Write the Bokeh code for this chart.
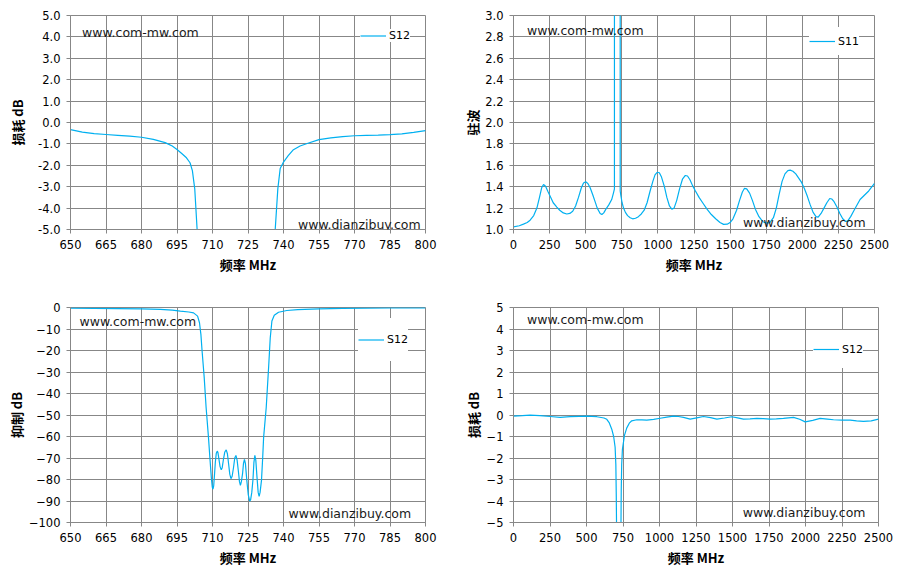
from bokeh.plotting import figure
from bokeh.models import Range1d, FixedTicker, NumeralTickFormatter, Label
from bokeh.layouts import row, column
from bokeh.embed import file_html
from bokeh.resources import INLINE

# ---------------- data ----------------
# Panel 1: insertion loss, 650-800 MHz (S12)
f1 = [650, 655, 660, 665, 670, 675, 680, 685, 690, 693, 695, 697, 699, 700.5,
      701.5, 702.5, 703.5, 704.5, 735.5, 736.5, 737.6, 738.6, 740, 742, 744.2,
      747, 750, 755, 760, 765, 770, 775, 780, 785, 790, 795, 800]
s1 = [-0.33, -0.45, -0.52, -0.56, -0.6, -0.64, -0.69, -0.79, -0.94, -1.1, -1.26,
      -1.45, -1.65, -1.88, -2.25, -3.1, -5.0, -7.5, -7.5, -5.0, -3.1, -2.15, -1.85,
      -1.55, -1.27, -1.1, -0.98, -0.8, -0.72, -0.66, -0.62, -0.6, -0.59, -0.57,
      -0.53, -0.46, -0.38]

# Panel 2: VSWR, 0-2500 MHz (S11)
f2 = [0, 40, 69, 95, 115, 140, 162, 180, 195, 208, 222, 240, 254, 275, 300, 320,
      345, 369, 390, 410, 430, 450, 470, 485, 500, 515, 531, 550, 565, 580, 600,
      612, 625, 640, 660, 680, 692, 699, 701, 737, 739, 743, 752, 762, 775, 790,
      808, 825, 845, 865, 885, 905, 925, 946, 965, 980, 995, 1010, 1025, 1045,
      1062, 1080, 1096, 1112, 1130, 1150, 1170, 1190, 1205, 1222, 1240, 1260,
      1285, 1310, 1340, 1370, 1400, 1430, 1455, 1480, 1500, 1520, 1545, 1565,
      1585, 1600, 1615, 1635, 1655, 1675, 1700, 1725, 1750, 1775, 1800, 1820,
      1840, 1860, 1880, 1900, 1916, 1935, 1955, 1975, 1995, 2015, 2035, 2055,
      2075, 2095, 2110, 2130, 2150, 2170, 2190, 2205, 2220, 2240, 2260, 2280,
      2300, 2315, 2335, 2355, 2375, 2400, 2430, 2460, 2500]
s2 = [1.025, 1.035, 1.05, 1.065, 1.087, 1.13, 1.2, 1.3, 1.39, 1.42, 1.405, 1.35,
      1.31, 1.25, 1.21, 1.18, 1.155, 1.145, 1.15, 1.17, 1.22, 1.3, 1.39, 1.435,
      1.446, 1.43, 1.39, 1.32, 1.26, 1.2, 1.15, 1.14, 1.155, 1.19, 1.23, 1.28,
      1.34, 1.38, 40.0, 40.0, 1.36, 1.32, 1.25, 1.2, 1.16, 1.13, 1.11, 1.1, 1.105,
      1.12, 1.145, 1.18, 1.25, 1.36, 1.45, 1.51, 1.535, 1.53, 1.49, 1.4, 1.3,
      1.22, 1.19, 1.2, 1.27, 1.38, 1.47, 1.505, 1.5, 1.465, 1.41, 1.36, 1.3, 1.25,
      1.19, 1.14, 1.1, 1.065, 1.048, 1.05, 1.065, 1.1, 1.18, 1.27, 1.35, 1.385,
      1.38, 1.34, 1.27, 1.19, 1.12, 1.075, 1.06, 1.065, 1.11, 1.2, 1.33, 1.45,
      1.52, 1.55, 1.555, 1.545, 1.52, 1.48, 1.44, 1.38, 1.31, 1.23, 1.16, 1.12,
      1.115, 1.15, 1.2, 1.25, 1.29, 1.285, 1.26, 1.21, 1.15, 1.1, 1.075, 1.08,
      1.12, 1.17, 1.22, 1.28, 1.32, 1.36, 1.43]

# Panel 3: rejection, 650-800 MHz (S12)
f3 = [650, 660, 670, 680, 688, 693, 696.4, 700, 702, 703.7, 704.5, 705.1, 705.6,
      706.5, 707.3, 708.3, 708.9, 709.5, 709.9, 710.2, 710.5, 710.8, 711.2, 711.6,
      712.0, 712.3, 712.7, 713.2, 713.7, 714.1, 714.6, 715.2, 715.8, 716.3, 716.8,
      717.3, 717.8, 718.3, 718.9, 719.4, 719.9, 720.4, 720.9, 721.4, 721.8, 722.2,
      722.7, 723.1, 723.5, 723.9, 724.5, 725.1, 725.7, 726.1, 726.6, 727.1, 727.5,
      727.9, 728.3, 728.8, 729.3, 729.7, 730.1, 730.7, 731.2, 731.6, 732.7, 733.7,
      734.4, 735.1, 736.1, 737.9, 741.4, 746, 755, 765, 775, 785, 800]
s3 = [-0.3, -0.4, -0.5, -0.6, -0.9, -1.2, -1.7, -2.1, -2.5, -4.0, -7.1, -12.5,
      -20.2, -32.6, -46.5, -60.4, -70.0, -79.0, -83.5, -84.5, -83.0, -78.5, -72.0,
      -67.8, -66.8, -67.5, -70.4, -74.0, -75.5, -74.5, -70.8, -67.2, -66.2, -68.0,
      -72.7, -77.5, -79.6, -78.5, -74.3, -70.0, -68.8, -71.0, -75.8, -81.0, -82.7,
      -81.0, -77.3, -72.5, -70.7, -72.5, -80.4, -87.0, -90.0, -89.5, -86.0, -80.0,
      -72.0, -68.8, -71.0, -78.9, -86.0, -87.8, -86.0, -80.4, -70.0, -60.4, -46.5,
      -28.0, -14.1, -6.3, -3.6, -2.2, -1.4, -1.0, -0.6, -0.4, -0.3, -0.2, -0.15]

# Panel 4: insertion loss, 0-2500 MHz (S12)
f4 = [0, 60, 114, 180, 251, 320, 388, 450, 502, 571, 620, 639, 655, 673, 686,
      696, 701, 704, 707, 735, 738, 741, 746, 760, 776, 793, 810, 845, 880, 913,
      960, 1005, 1050, 1096, 1130, 1164, 1210, 1255, 1301, 1350, 1393, 1445, 1495,
      1535, 1575, 1620, 1667, 1710, 1758, 1800, 1849, 1918, 1960, 1998, 2050,
      2100, 2150, 2192, 2250, 2306, 2350, 2397, 2450, 2500]
s4 = [-0.05, -0.03, -0.01, -0.03, -0.07, -0.11, -0.08, -0.06, -0.05, -0.08,
      -0.14, -0.2, -0.35, -0.66, -1.0, -1.5, -2.3, -3.8, -6.0, -6.0, -3.5, -2.3,
      -1.6, -0.95, -0.6, -0.38, -0.27, -0.22, -0.23, -0.24, -0.2, -0.15, -0.1,
      -0.05, -0.07, -0.11, -0.19, -0.13, -0.07, -0.12, -0.19, -0.14, -0.08, -0.13,
      -0.19, -0.18, -0.16, -0.17, -0.19, -0.18, -0.16, -0.11, -0.2, -0.32, -0.25,
      -0.16, -0.19, -0.22, -0.24, -0.24, -0.27, -0.3, -0.27, -0.19]

ticks_narrow = [650, 665, 680, 695, 710, 725, 740, 755, 770, 785, 800]
ticks_wide = [0, 250, 500, 750, 1000, 1250, 1500, 1750, 2000, 2250, 2500]
yt1 = [-5, -4, -3, -2, -1, 0, 1, 2, 3, 4, 5]
yt2 = [1.0, 1.2, 1.4, 1.6, 1.8, 2.0, 2.2, 2.4, 2.6, 2.8, 3.0]
yt3 = [-100, -90, -80, -70, -60, -50, -40, -30, -20, -10, 0]
yt4 = [-5, -4, -3, -2, -1, 0, 1, 2, 3, 4, 5]

LINE = "#00B0F0"
GRID = "#878787"
FONT = "DejaVu Sans"
CJK = "Noto Sans CJK SC"
XLAB = "频率 MHz"


def make_fig(fw, fh, left, right, top, bottom, xr, yr, xt, yt, fmt, ylab,
             ystand):
    p = figure(width=left + fw + right, height=top + fh + bottom,
               min_border_left=left, min_border_right=right,
               min_border_top=top, min_border_bottom=bottom,
               x_range=Range1d(*xr), y_range=Range1d(*yr),
               output_backend="svg", toolbar_location=None, tools="")
    p.background_fill_color = "white"
    p.border_fill_color = "white"
    p.outline_line_color = GRID
    p.xaxis.ticker = FixedTicker(ticks=xt)
    p.yaxis.ticker = FixedTicker(ticks=yt)
    if fmt:
        p.yaxis.formatter = NumeralTickFormatter(format=fmt)
    for g in (p.xgrid, p.ygrid):
        g.grid_line_color = GRID
        g.grid_line_width = 1
    for ax in (p.xaxis, p.yaxis):
        ax.axis_line_color = GRID
        ax.major_tick_line_color = GRID
        ax.major_tick_out = 4
        ax.major_tick_in = 0
        ax.minor_tick_line_color = None
        ax.major_label_text_font = FONT
        ax.major_label_text_font_size = "11.5px"
        ax.major_label_text_color = "black"
        ax.major_label_standoff = 6
        ax.axis_label_text_font = CJK
        ax.axis_label_text_font_style = "bold"
        ax.axis_label_text_font_size = "13px"
        ax.axis_label_text_color = "black"
    p.xaxis.axis_label = XLAB
    p.xaxis.axis_label_standoff = 3
    p.yaxis.axis_label = ylab
    p.yaxis.axis_label_standoff = ystand
    return p


def style_legend(p, loc, h):
    leg = p.legend[0]
    leg.location = loc
    leg.margin = 0
    leg.padding = 6
    leg.spacing = 0
    leg.glyph_width = 26
    leg.glyph_height = h
    leg.label_height = h
    leg.label_standoff = 3
    leg.border_line_color = None
    leg.background_fill_color = "white"
    leg.background_fill_alpha = 1.0
    leg.label_text_font = FONT
    leg.label_text_font_size = "11px"
    leg.label_text_color = "black"


def marks(p, x1, y1, x2, y2):
    for (x, y, t) in ((x1, y1, "www.com-mw.com"), (x2, y2, "www.dianzibuy.com")):
        p.add_layout(Label(x=x, y=y, text=t, text_font=FONT,
                           text_font_size="12.5px", text_color="#1a1a1a",
                           text_baseline="middle", text_align="left"))


p1 = make_fig(355, 214, 70, 25, 15, 51, (650, 800), (-5, 5), ticks_narrow, yt1,
              "0.0", "损耗 dB", 8)
p1.line(f1, s1, line_color=LINE, line_width=1.2, legend_label="S12")
marks(p1, 654.9, 4.21, 746.1, -4.77)
style_legend(p1, (290, 187), 13)

p2 = make_fig(361, 214, 63, 24, 15, 51, (0, 2500), (1, 3), ticks_wide, yt2,
              "0.0", "驻波", 0)
p2.line(f2, s2, line_color=LINE, line_width=1.2, legend_label="S11")
marks(p2, 93, 2.86, 1589, 1.062)
style_legend(p2, (296, 174), 28)

p3 = make_fig(355, 215, 70, 25, 27, 53, (650, 800), (-100, 0), ticks_narrow, yt3,
              None, "抑制 dB", 0)
p3.line(f3, s3, line_color=LINE, line_width=1.2, legend_label="S12")
marks(p3, 653.8, -6.3, 742.1, -95.6)
style_legend(p3, (288, 161), 43)

p4 = make_fig(365, 215, 63, 20, 27, 53, (0, 2500), (-5, 5), ticks_wide, yt4,
              None, "损耗 dB", 1)
p4.line(f4, s4, line_color=LINE, line_width=1.2, legend_label="S12")
marks(p4, 92, 4.45, 1571, -4.53)
style_legend(p4, (300, 154), 38)

layout = column(row(p1, p2), row(p3, p4))
open("out.html", "w").write(file_html(layout, INLINE))
